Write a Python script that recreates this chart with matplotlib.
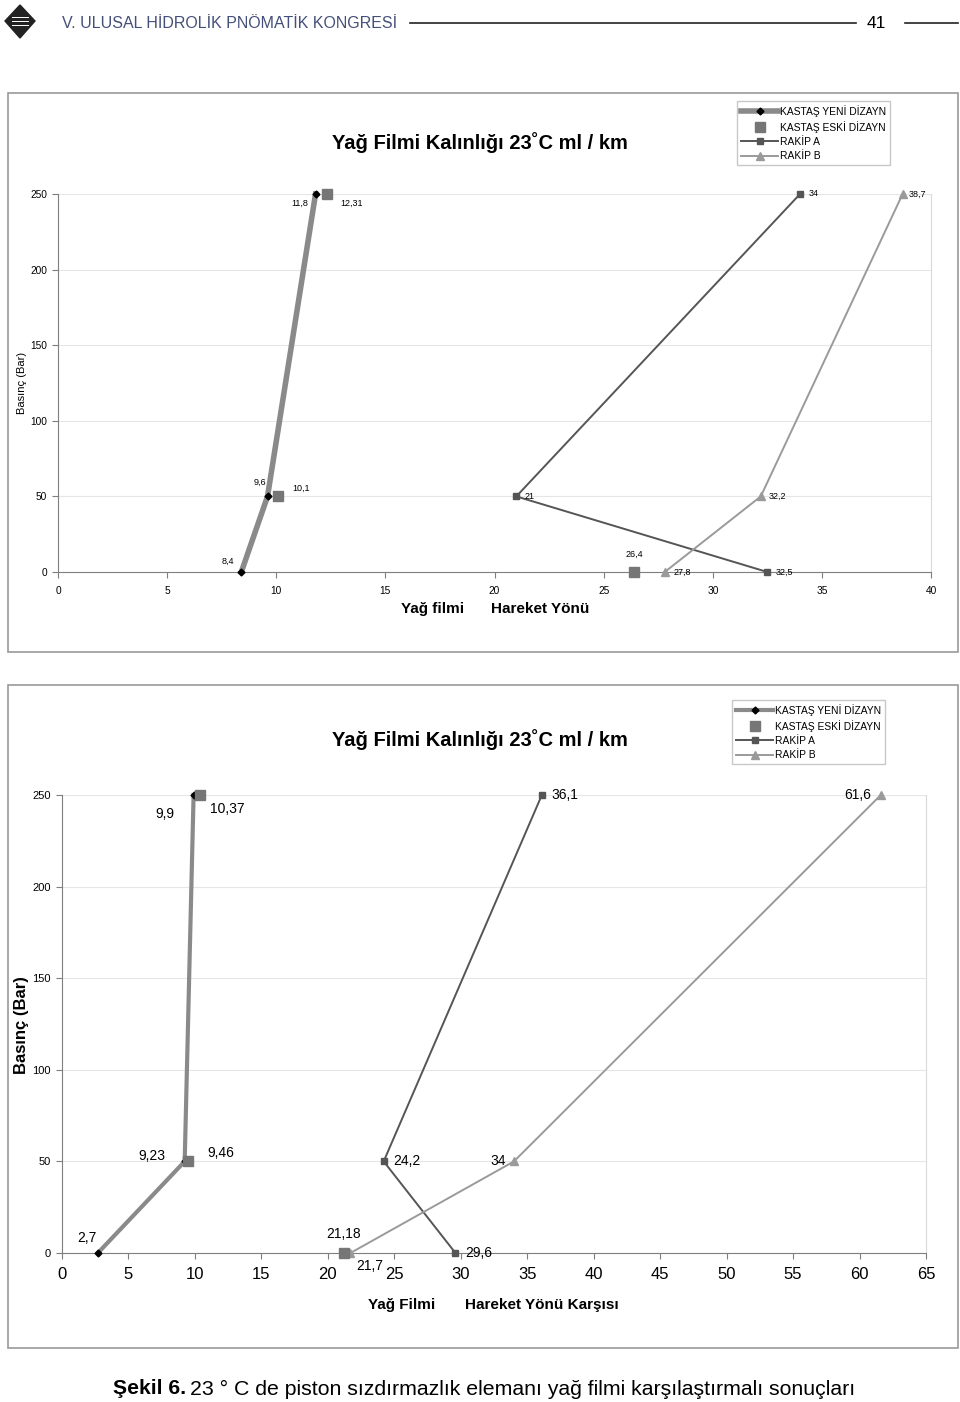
import matplotlib.pyplot as plt
from matplotlib.patches import Rectangle, Polygon
from matplotlib.lines import Line2D

W, H = 960, 1402

# data, chart 1 (Hareket Yönü)
p1 = [0, 50, 250]
yeni1 = [8.4, 9.6, 11.8]
eski1 = [26.4, 10.1, 12.31]
rakipA1 = [32.5, 21, 34]
rakipB1 = [27.8, 32.2, 38.7]

# data, chart 2 (Hareket Yönü Karşısı)
p2 = [0, 50, 250]
yeni2 = [2.7, 9.23, 9.9]
eski2 = [21.18, 9.46, 10.37]
rakipA2 = [29.6, 24.2, 36.1]
rakipB2 = [21.7, 34, 61.6]

names = ["KASTAŞ YENİ DİZAYN", "KASTAŞ ESKİ DİZAYN", "RAKİP A", "RAKİP B"]
title = "Yağ Filmi Kalınlığı 23˚C ml / km"

C_YENI = "#8a8a8a"
C_ESKI = "#767676"
C_A = "#555555"
C_B = "#9a9a9a"

fig = plt.figure(figsize=(W / 100, H / 100), dpi=100)
plt.rcParams["font.family"] = ["Liberation Sans", "DejaVu Sans"]


def fx(px):
    return px / W


def fy(py):
    return 1 - py / H


def box(x0, y0, x1, y1, **kw):
    fig.patches.append(Rectangle((fx(x0), fy(y1)), fx(x1) - fx(x0), fy(y0) - fy(y1),
                                 transform=fig.transFigure, fill=False, **kw))


# header
logo = Polygon([(fx(20), fy(5)), (fx(35), fy(21)), (fx(20), fy(38)), (fx(5), fy(21))],
               closed=True, transform=fig.transFigure, color="#222222")
fig.patches.append(logo)
for yy in (17, 21, 25):
    fig.lines.append(Line2D([fx(12), fx(28)], [fy(yy), fy(yy)], transform=fig.transFigure,
                            color="white", lw=0.7))
fig.text(fx(62), fy(23), "V. ULUSAL HİDROLİK PNÖMATİK KONGRESİ", fontsize=11.5,
         color="#45507a", va="center", ha="left")
fig.lines.append(Line2D([fx(410), fx(856)], [fy(23), fy(23)], transform=fig.transFigure,
                        color="#222222", lw=1.2))
fig.text(fx(876), fy(24), "41", fontsize=12.5, va="center", ha="center")
fig.lines.append(Line2D([fx(905), fx(958)], [fy(23), fy(23)], transform=fig.transFigure,
                        color="#222222", lw=1.2))


def make_chart(rect, xmax, xstep, p, yeni, eski, ra, rb, labels, tick_fs, lab_fs, yeni_lw):
    x0, y0, x1, y1 = rect
    ax = fig.add_axes([fx(x0), fy(y1), fx(x1) - fx(x0), fy(y0) - fy(y1)])
    ax.set_xlim(0, xmax)
    ax.set_ylim(0, 250)
    ax.set_xticks(range(0, xmax + 1, xstep))
    ax.set_yticks(range(0, 251, 50))
    ax.grid(axis="y", color="#e6e6e6", lw=0.8)
    ax.set_axisbelow(True)
    for s in ("left", "bottom"):
        ax.spines[s].set_color("#7f7f7f")
    ax.spines["right"].set_color("#d9d9d9")
    ax.spines["top"].set_visible(False)
    ax.tick_params(axis="x", length=4, color="#7f7f7f", labelsize=tick_fs[0], pad=6)
    ax.tick_params(axis="y", length=4, color="#7f7f7f", labelsize=tick_fs[1], pad=4)

    ax.plot(yeni, p, color=C_YENI, lw=yeni_lw, marker="D", ms=3.5, mfc="black",
            mec="black", zorder=4, clip_on=False, label=names[0])
    ax.plot(eski, p, ls="none", marker="s", ms=7.5, color=C_ESKI, zorder=5,
            clip_on=False, label=names[1])
    ax.plot(ra, p, color=C_A, lw=1.4, marker="s", ms=5, zorder=3, clip_on=False,
            label=names[2])
    ax.plot(rb, p, color=C_B, lw=1.4, marker="^", ms=6, zorder=3, clip_on=False,
            label=names[3])

    series = [yeni, eski, ra, rb]
    for (si, pi, dx, dy, ha) in labels:
        xv = series[si][pi]
        ax.annotate(f"{xv:g}".replace(".", ","), (xv, p[pi]), xytext=(dx, dy),
                    textcoords="offset points", fontsize=lab_fs, ha=ha, va="center")
    return ax


def add_legend(ax, x, y):
    ax.legend(loc="upper left", bbox_to_anchor=(fx(x), fy(y)), bbox_transform=fig.transFigure,
              fontsize=7.4, frameon=True, fancybox=False, edgecolor="#bbbbbb", borderpad=0.4,
              labelspacing=0.4, handlelength=3.6, handletextpad=0.2, borderaxespad=0)


# chart 1
box(8, 93, 958, 652, color="#9a9a9a", lw=1.2)
ax1 = make_chart((58, 194, 931, 572), 40, 5, p1, yeni1, eski1, rakipA1, rakipB1,
                 [(0, 2, -5, -7, "right"), (0, 1, -1, 10, "right"), (0, 0, -5, 8, "right"),
                  (1, 2, 10, -7, "left"), (1, 1, 10, 6, "left"), (1, 0, 0, 13, "center"),
                  (2, 2, 6, 0, "left"), (2, 1, 6, 0, "left"), (2, 0, 6, 0, "left"),
                  (3, 2, 4, 0, "left"), (3, 1, 6, 0, "left"), (3, 0, 6, 0, "left")],
                 (7.3, 7.3), 6.5, 4)
fig.text(fx(480), fy(143), title, fontsize=14.5, fontweight="bold", ha="center", va="center")
fig.text(fx(22), fy(383), "Basınç (Bar)", fontsize=8, rotation=90, ha="center", va="center")
fig.text(fx(433), fy(609), "Yağ filmi", fontsize=11, fontweight="bold", ha="center", va="center")
fig.text(fx(540), fy(609), "Hareket Yönü", fontsize=11, fontweight="bold", ha="center", va="center")
add_legend(ax1, 737, 101)

# chart 2
box(8, 685, 958, 1348, color="#9a9a9a", lw=1.2)
ax2 = make_chart((62, 795, 926, 1253), 65, 5, p2, yeni2, eski2, rakipA2, rakipB2,
                 [(0, 2, -14, -14, "right"), (0, 1, -14, 4, "right"), (0, 0, -1, 11, "right"),
                  (1, 2, 7, -10, "left"), (1, 1, 14, 6, "left"), (1, 0, 0, 14, "center"),
                  (2, 2, 7, 0, "left"), (2, 1, 7, 0, "left"), (2, 0, 7, 0, "left"),
                  (3, 2, -7, 0, "right"), (3, 1, -6, 0, "right"), (3, 0, 4, -9, "left")],
                 (12, 8), 10, 3)
fig.text(fx(480), fy(740), title, fontsize=14.5, fontweight="bold", ha="center", va="center")
fig.text(fx(22), fy(1025), "Basınç (Bar)", fontsize=12, fontweight="bold", rotation=90,
         ha="center", va="center")
fig.text(fx(402), fy(1305), "Yağ Filmi", fontsize=11, fontweight="bold", ha="center", va="center")
fig.text(fx(542), fy(1305), "Hareket Yönü Karşısı", fontsize=11, fontweight="bold",
         ha="center", va="center")
add_legend(ax2, 732, 700)

# caption
fig.text(fx(113), fy(1389), "Şekil 6.", fontsize=15.3, fontweight="bold",
         ha="left", va="center")
fig.text(fx(190), fy(1389), "23 ° C de piston sızdırmazlık elemanı yağ filmi karşılaştırmalı sonuçları",
         fontsize=15.3, ha="left", va="center")

fig.savefig("out.png", dpi=100)
